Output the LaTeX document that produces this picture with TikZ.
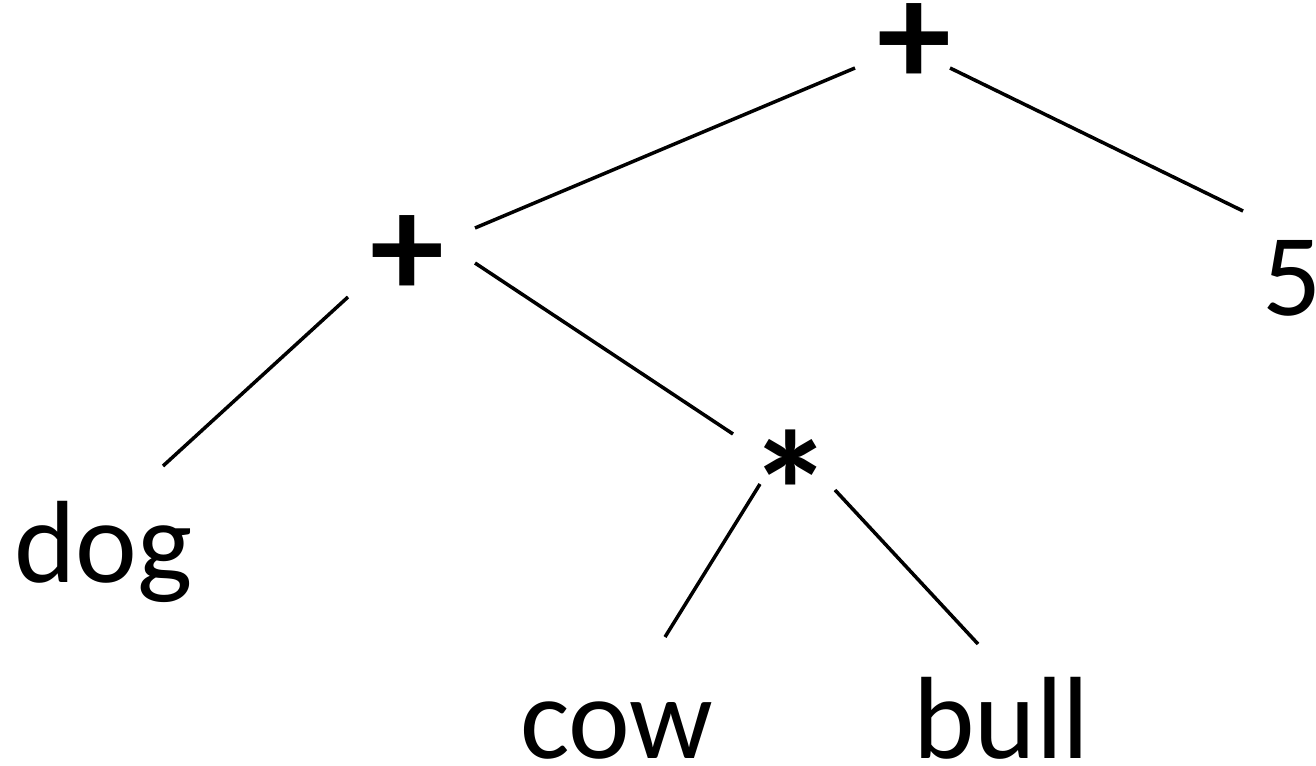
\documentclass[tikz,border=0pt]{standalone}
\usepackage{fontspec}
\setmainfont{Carlito}
\begin{document}
\begin{tikzpicture}[x=1pt,y=-1pt,
  leaf/.style={inner sep=0pt,anchor=base west,font=\fontsize{117}{130}\selectfont},
  plusop/.style={inner sep=0pt,font=\fontsize{148}{160}\selectfont\bfseries},
  starop/.style={inner sep=0pt,font=\fontsize{170}{180}\selectfont\bfseries},
  edge/.style={line width=3.5pt}]
\useasboundingbox (0,0) rectangle (1316,765);
\node[plusop] (root) at (914,45) {+};
\node[plusop] (plus) at (407,257) {+};
\node[starop] (star) at (791,491) {*};
\node[leaf] (five) at (1262,315) {5};
\node[leaf] (dog) at (14,582) {dog};
\node[leaf] (cow) at (520,758) {cow};
\node[leaf] (bull) at (913,758) {bull};
\coordinate (r1) at (855,68); \coordinate (p0) at (475,228);
\coordinate (r2) at (950,68); \coordinate (f0) at (1243,211);
\coordinate (p1) at (348,297); \coordinate (d0) at (163,466);
\coordinate (p2) at (475,263); \coordinate (s0) at (733,434);
\coordinate (s1) at (760,484); \coordinate (c0) at (665,637);
\coordinate (s2) at (835,490); \coordinate (b0) at (978,644);
\draw[edge] (r1) -- (p0);
\draw[edge] (r2) -- (f0);
\draw[edge] (p1) -- (d0);
\draw[edge] (p2) -- (s0);
\draw[edge] (s1) -- (c0);
\draw[edge] (s2) -- (b0);
\end{tikzpicture}
\end{document}
